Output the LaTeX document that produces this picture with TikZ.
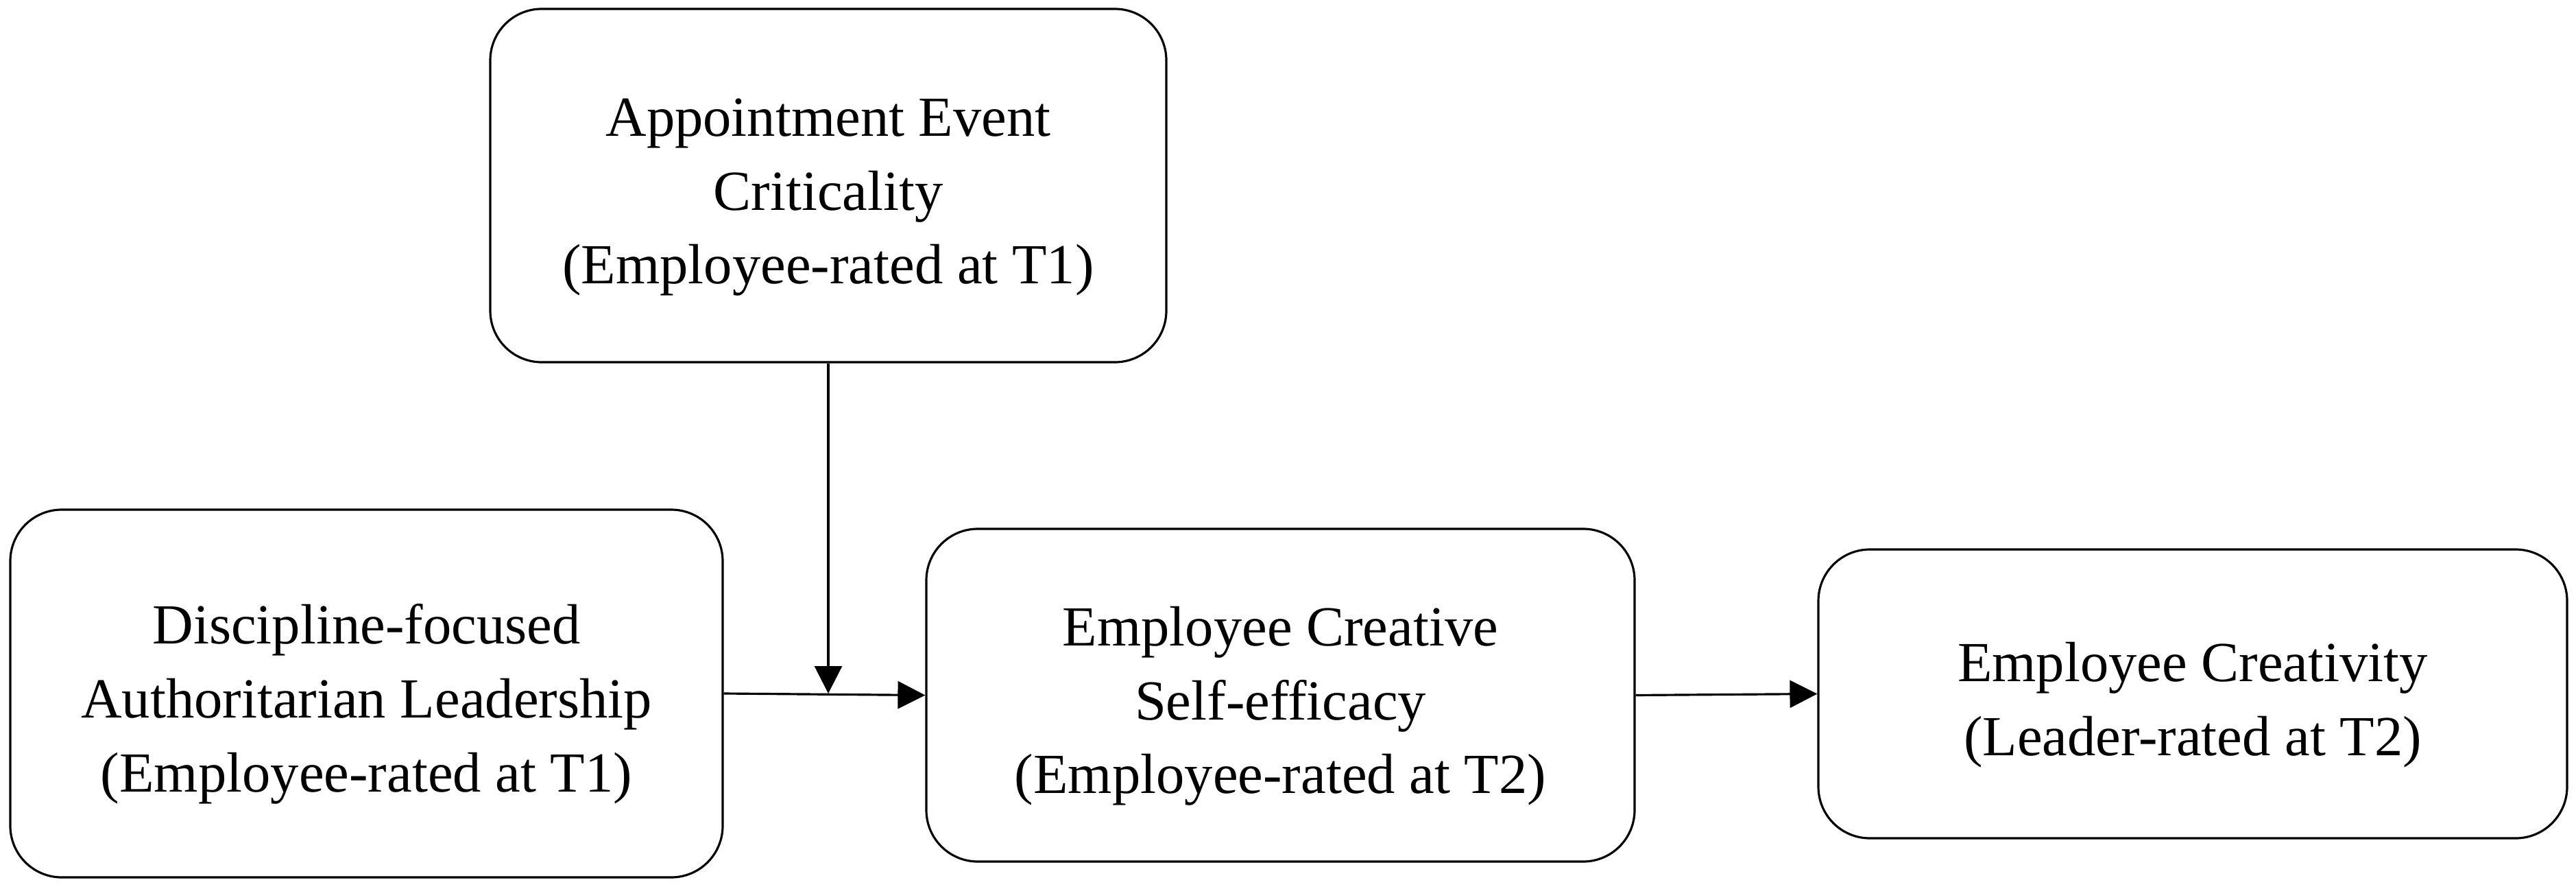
\documentclass[tikz,border=0pt]{standalone}
\usepackage{fontspec}
\setmainfont{Liberation Serif}
\usetikzlibrary{arrows.meta}
\newcommand{\etiq}[1]{\raisebox{-0.14cm}[\height][\depth]{\begin{tabular}{@{}c@{}}#1\end{tabular}}}
\tikzset{
  var/.style={draw, line width=0.9pt, rounded corners=0.75cm, inner sep=0pt,
    font=\fontsize{23.5}{30.7}\selectfont},
  fleche/.style={line width=0.9pt, -{Triangle[length=0.4cm,width=0.4cm]}}
}
\begin{document}
\begin{tikzpicture}
  \useasboundingbox (0,0) rectangle (37.57,-12.96);
  \node[var, minimum width=9.86cm, minimum height=5.15cm] (att) at (12.08,-2.705)
    {\etiq{Appointment Event\\Criticality\\(Employee-rated at T1)}};
  \node[var, minimum width=10.39cm, minimum height=5.36cm] (dal) at (5.345,-10.11)
    {\etiq{Discipline-focused\\Authoritarian Leadership\\(Employee-rated at T1)}};
  \node[var, minimum width=10.33cm, minimum height=4.85cm] (cse) at (18.675,-10.135)
    {\etiq{Employee Creative\\Self-efficacy\\(Employee-rated at T2)}};
  \node[var, minimum width=10.92cm, minimum height=4.21cm] (ec) at (31.98,-10.115)
    {\etiq{Employee Creativity\\(Leader-rated at T2)}};
  \coordinate (mod) at (att.south |- dal.east); % point sur la flèche principale
  \draw[fleche] (dal.east) -- (cse.west);
  \draw[fleche] (att.south) -- (mod);
  \draw[fleche] (cse.east) -- (ec.west);
\end{tikzpicture}
\end{document}
